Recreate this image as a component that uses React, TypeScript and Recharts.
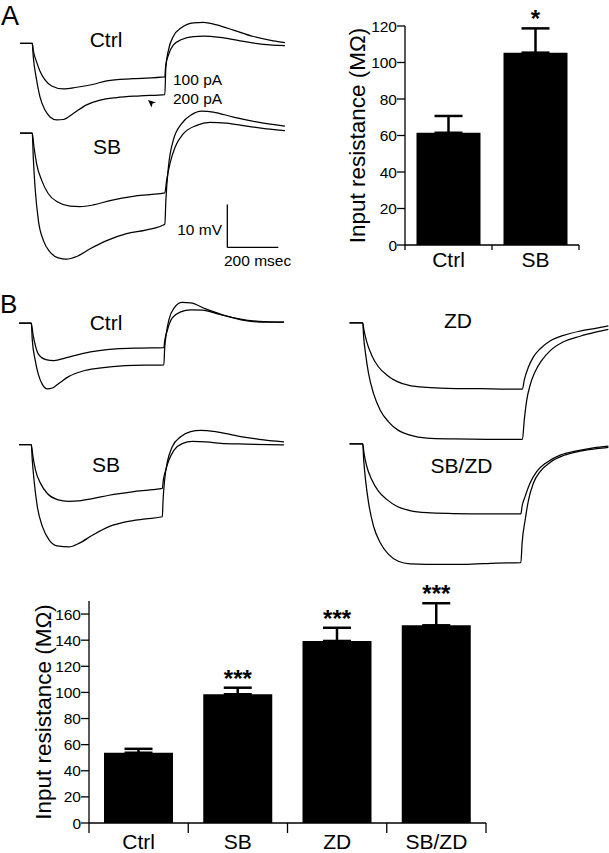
import { Bar, BarChart, ErrorBar, Line, LineChart, ReferenceDot, ReferenceLine, XAxis, YAxis } from "recharts"

const FONT = '"Liberation Sans", Arial, Helvetica, sans-serif'

// input resistance, MΩ (mean, sem)
const categoriesA = ["Ctrl", "SB"]
const meansA = [61.5, 105.4]
const semsA = [9.2, 13.3]
const starsA = ["", "*"]
const ticksA = [0, 20, 40, 60, 80, 100, 120]

const categoriesB = ["Ctrl", "SB", "ZD", "SB/ZD"]
const meansB = [53.8, 98.6, 139.4, 151.4]
const semsB = [3.0, 5.0, 10.1, 16.9]
const starsB = ["", "***", "***", "***"]
const ticksB = [0, 20, 40, 60, 80, 100, 120, 140, 160]

// voltage responses to -100 / -200 pA steps, [ms, mV from rest]
const ctrlA100 = [[0, 0], [48, 0], [52, -1.6], [65, -4.3], [78, -6.4], [98, -8.5], [124, -9.9], [170, -10.6], [222, -10.2], [288, -9.5], [340, -8.7], [444, -8.2], [568, -7.8], [571, -5.4], [582, -2.7], [601, -0.4], [634, 0.9], [680, 1.6], [719, 1.7], [784, 1.4], [863, 0.6], [954, -0.2], [1039, -0.5]]
const ctrlA200 = [[0, 0], [48, 0], [52, -3.1], [65, -8.5], [78, -12.4], [98, -15.5], [118, -17.1], [144, -17.8], [170, -17.7], [209, -16.3], [261, -14.3], [314, -13.2], [379, -12.6], [471, -12.2], [568, -11.9], [572, -5.4], [582, -1.6], [601, 1.6], [634, 3.7], [680, 4.8], [719, 4.9], [771, 4.3], [837, 3.1], [915, 1.6], [993, 0.6], [1039, 0.2]]
const sbA100 = [[0, 0], [48, 0], [55, -3.3], [65, -7.1], [85, -11.0], [111, -14.1], [150, -16.1], [196, -17.0], [235, -17.1], [288, -16.7], [353, -15.7], [444, -14.7], [510, -14.3], [568, -13.9], [575, -11.0], [588, -7.1], [608, -3.3], [640, -0.2], [693, 1.8], [745, 2.5], [810, 2.3], [889, 1.6], [967, 1.0], [1039, 0.6]]
const sbA200 = [[0, 0], [48, 0], [52, -5.6], [59, -12.6], [72, -20.3], [92, -25.0], [118, -27.7], [150, -29.0], [183, -29.3], [222, -28.7], [275, -26.9], [340, -25.0], [418, -23.4], [497, -22.5], [568, -21.2], [572, -15.7], [582, -7.9], [601, -1.7], [634, 2.2], [673, 4.3], [712, 5.1], [758, 4.9], [837, 3.7], [928, 2.6], [1039, 1.6]]

const ctrlB100 = [[0, 0], [48, 0], [55, -2.7], [65, -5.4], [78, -7.4], [105, -8.5], [137, -8.7], [183, -8.1], [248, -7.1], [314, -6.4], [379, -6.0], [471, -5.8], [568, -5.7], [571, -4.3], [582, -1.6], [601, 1.2], [634, 2.6], [673, 3.1], [719, 3.0], [784, 2.1], [863, 1.0], [941, 0.4], [1039, 0.2]]
const ctrlB200 = [[0, 0], [48, 0], [52, -3.9], [63, -8.5], [76, -12.0], [92, -14.3], [111, -15.3], [131, -15.1], [157, -14.0], [196, -12.4], [248, -11.2], [314, -10.5], [418, -9.9], [568, -9.7], [571, -6.2], [578, -2.3], [588, 0.8], [608, 3.5], [640, 4.8], [673, 4.7], [732, 3.3], [810, 1.7], [889, 0.6], [967, 0.2], [1039, 0.2]]
const sbB100 = [[0, 0], [48, 0], [55, -2.9], [65, -6.0], [85, -9.1], [111, -11.4], [150, -12.8], [196, -13.2], [235, -13.1], [288, -12.6], [353, -11.8], [444, -11.0], [523, -10.5], [562, -10.2], [566, -8.3], [575, -6.0], [588, -3.6], [608, -1.3], [640, 0.2], [680, 0.7], [732, 0.6], [810, 0.2], [889, 0.1], [1039, -0.1]]
const sbB200 = [[0, 0], [48, 0], [52, -3.6], [59, -8.3], [72, -14.5], [92, -19.1], [118, -22.2], [150, -23.6], [196, -23.8], [235, -23.0], [288, -21.1], [353, -19.1], [418, -18.0], [497, -17.3], [562, -16.8], [565, -12.9], [571, -8.3], [582, -4.0], [601, -0.5], [634, 1.8], [673, 3.0], [712, 3.3], [771, 3.0], [863, 1.9], [941, 1.2], [1039, 0.6]]
const zd100 = [[5, 0], [48, 0], [52, -1.7], [61, -4.4], [77, -7.5], [99, -10.2], [126, -12.1], [159, -13.6], [202, -14.6], [257, -15.0], [322, -15.2], [430, -15.3], [568, -15.4], [574, -13.3], [588, -10.2], [604, -7.9], [626, -6.0], [658, -4.2], [702, -2.9], [756, -1.9], [810, -1.2], [848, -0.7]]
const zd200 = [[5, 0], [48, 0], [51, -3.3], [57, -7.1], [67, -11.8], [83, -16.4], [105, -20.3], [132, -23.0], [164, -25.0], [202, -26.1], [257, -26.8], [343, -27.0], [452, -27.1], [568, -27.1], [574, -22.6], [582, -18.0], [593, -14.5], [609, -11.4], [631, -8.7], [658, -6.5], [702, -4.4], [756, -3.1], [810, -2.1], [848, -1.5]]
const sbzd100 = [[5, 0], [48, 0], [52, -2.1], [61, -5.2], [77, -8.3], [99, -11.0], [126, -12.9], [159, -14.5], [202, -15.5], [257, -16.0], [343, -16.2], [452, -16.3], [563, -16.3], [567, -14.5], [577, -12.2], [593, -9.1], [615, -6.4], [647, -4.3], [691, -2.6], [745, -1.6], [799, -0.9], [848, -0.5]]
const sbzd200 = [[5, 0], [48, 0], [51, -3.6], [57, -8.3], [67, -13.7], [83, -19.1], [105, -23.0], [132, -25.7], [164, -27.3], [202, -27.9], [257, -28.0], [376, -28.0], [484, -27.7], [563, -27.6], [567, -23.1], [577, -17.7], [588, -13.0], [604, -9.1], [626, -6.4], [658, -4.3], [702, -2.7], [756, -1.7], [810, -1.1], [848, -0.8]]

// scale bar for panel A (drawn in the SB trace axes)
const scaleBarMs = 200
const scaleBarMv = 10
const scaleBarAt = { t: 813, v: -26.6 }

function Traces({ left, top, width, height, tMax, vMin, vMax, traces, children }: any) {
  return (
    <div style={{ position: "absolute", left, top }}>
      <LineChart width={width} height={height} margin={{ top: 0, right: 0, bottom: 0, left: 0 }}>
        <XAxis type="number" dataKey="t" domain={[0, tMax]} hide allowDataOverflow />
        <YAxis type="number" dataKey="v" domain={[vMin, vMax]} hide allowDataOverflow />
        {traces.map((tr: number[][], i: number) => (
          <Line
            key={i}
            data={tr.map(([t, v]) => ({ t, v }))}
            dataKey="v"
            type="monotone"
            stroke="#000"
            strokeWidth={1.25}
            dot={false}
            isAnimationActive={false}
          />
        ))}
        {children}
      </LineChart>
    </div>
  )
}

function ResistanceChart({ left, top, width, height, margin, categories, means, sems, stars, ticks, yMax, gap, labelX, tickLen, catDy }: any) {
  const data = categories.map((name: string, i: number) => ({ name, mean: means[i], err: [0, sems[i]] }))
  const band = (width - margin.left - 60 - margin.right) / categories.length
  const last = categories.length - 1
  const catTick = (p: any) => (
    <g>
      <line x1={p.x - band / 2} x2={p.x - band / 2} y1={p.y} y2={p.y + tickLen} stroke="#000" strokeWidth={1.3} />
      {p.index === last && <line x1={p.x + band / 2} x2={p.x + band / 2} y1={p.y} y2={p.y + tickLen} stroke="#000" strokeWidth={1.3} />}
      <text x={p.x} y={p.y + catDy} textAnchor="middle" dominantBaseline="central" fontSize={21} fontFamily={FONT} fill="#000">
        {p.payload.value}
      </text>
    </g>
  )
  const yLabel = ({ viewBox }: any) => (
    <text
      transform={`translate(${labelX},${viewBox.y + viewBox.height / 2}) rotate(-90)`}
      textAnchor="middle"
      dominantBaseline="central"
      fontSize={22.5}
      fontFamily={FONT}
      fill="#000"
    >
      Input resistance (MΩ)
    </text>
  )
  return (
    <div style={{ position: "absolute", left, top }}>
      <BarChart width={width} height={height} data={data} margin={margin} barCategoryGap={gap}>
        <XAxis
          dataKey="name"
          axisLine={{ stroke: "#000", strokeWidth: 1.3 }}
          tickLine={false}
          tickSize={0}
          tickMargin={0}
          tick={catTick}
          interval={0}
        />
        <YAxis
          width={60}
          domain={[0, yMax]}
          ticks={ticks}
          allowDataOverflow
          axisLine={{ stroke: "#000", strokeWidth: 1.3 }}
          tickLine={{ stroke: "#000", strokeWidth: 1.3 }}
          tickSize={8}
          tickMargin={0}
          tick={{ fill: "#000", fontSize: 15.5, fontFamily: FONT }}
          label={yLabel}
        />
        <Bar dataKey="mean" fill="#000" isAnimationActive={false}>
          <ErrorBar dataKey="err" direction="y" width={14} stroke="#000" strokeWidth={2.5} />
        </Bar>
        {categories.map((name: string, i: number) =>
          stars[i] ? (
            <ReferenceDot
              key={name}
              x={name}
              y={means[i] + sems[i]}
              r={1}
              shape={(p: any) => (
                <text x={p.cx} y={p.cy - 1} textAnchor="middle" fontSize={24} fontWeight="bold" fontFamily={FONT} fill="#000">
                  {stars[i]}
                </text>
              )}
            />
          ) : null
        )}
      </BarChart>
    </div>
  )
}

const txt = { fontFamily: FONT, fill: "#000" }

export default function App() {
  return (
    <div style={{ position: "absolute", left: 0, top: 0, width: 609, height: 853, background: "#fff", overflow: "hidden" }}>
      <Traces left={20} top={8.9} width={280.5} height={120.4} tMax={1100} vMin={-20} vMax={8} traces={[ctrlA100, ctrlA200]} />
      <Traces left={20} top={102.6} width={280.5} height={163.4} tMax={1100} vMin={-31} vMax={7} traces={[sbA100, sbA200]}>
        <ReferenceLine
          segment={[{ x: scaleBarAt.t, y: scaleBarAt.v }, { x: scaleBarAt.t, y: scaleBarAt.v + scaleBarMv }]}
          stroke="#000"
          strokeWidth={1.3}
          ifOverflow="visible"
        />
        <ReferenceLine
          segment={[{ x: scaleBarAt.t, y: scaleBarAt.v }, { x: scaleBarAt.t + scaleBarMs, y: scaleBarAt.v }]}
          stroke="#000"
          strokeWidth={1.3}
          ifOverflow="visible"
        />
      </Traces>
      <Traces left={19} top={293.2} width={280.5} height={103.2} tMax={1100} vMin={-17} vMax={7} traces={[ctrlB100, ctrlB200]} />
      <Traces left={19} top={422.8} width={280.5} height={129} tMax={1100} vMin={-25} vMax={5} traces={[sbB100, sbB200]} />
      <Traces left={348} top={309.8} width={261} height={137.6} tMax={850} vMin={-29} vMax={3} traces={[zd100, zd200]} />
      <Traces left={348} top={431.4} width={261} height={141.9} tMax={850} vMin={-30} vMax={3} traces={[sbzd100, sbzd200]} />

      <ResistanceChart
        left={300}
        top={0}
        width={309}
        height={280}
        margin={{ top: 26, right: 30, bottom: 5, left: 45 }}
        categories={categoriesA}
        means={meansA}
        sems={semsA}
        stars={starsA}
        ticks={ticksA}
        yMax={120}
        gap={11.5}
        labelX={57}
        tickLen={5}
        catDy={14}
      />
      <ResistanceChart
        left={0}
        top={580}
        width={609}
        height={273}
        margin={{ top: 21, right: 123, bottom: 0, left: 29 }}
        categories={categoriesB}
        means={meansB}
        sems={semsB}
        stars={starsB}
        ticks={ticksB}
        yMax={170}
        gap={15}
        labelX={43}
        tickLen={10}
        catDy={18}
      />

      <svg width={609} height={853} style={{ position: "absolute", left: 0, top: 0, pointerEvents: "none" }}>
        <text x={1} y={24.5} fontSize={27} {...txt}>A</text>
        <text x={0} y={313} fontSize={26} {...txt}>B</text>
        <text x={106} y={39} textAnchor="middle" dominantBaseline="central" fontSize={21} {...txt}>Ctrl</text>
        <text x={107} y={146} textAnchor="middle" dominantBaseline="central" fontSize={21} {...txt}>SB</text>
        <text x={173} y={79} dominantBaseline="central" fontSize={15.5} {...txt}>100 pA</text>
        <text x={173} y={98} dominantBaseline="central" fontSize={15.5} {...txt}>200 pA</text>
        <polygon points="148,100 156,102.5 152.5,103.5 151.5,107.5" fill="#000" />
        <text x={222} y={229.5} textAnchor="end" dominantBaseline="central" fontSize={15.5} {...txt}>10 mV</text>
        <text x={224} y={260} dominantBaseline="central" fontSize={15.5} {...txt}>200 msec</text>
        <text x={106} y={322.5} textAnchor="middle" dominantBaseline="central" fontSize={21} {...txt}>Ctrl</text>
        <text x={106} y={464.5} textAnchor="middle" dominantBaseline="central" fontSize={21} {...txt}>SB</text>
        <text x={458} y={320.5} textAnchor="middle" dominantBaseline="central" fontSize={21} {...txt}>ZD</text>
        <text x={461.5} y={465.5} textAnchor="middle" dominantBaseline="central" fontSize={21} {...txt}>SB/ZD</text>
      </svg>
    </div>
  )
}
